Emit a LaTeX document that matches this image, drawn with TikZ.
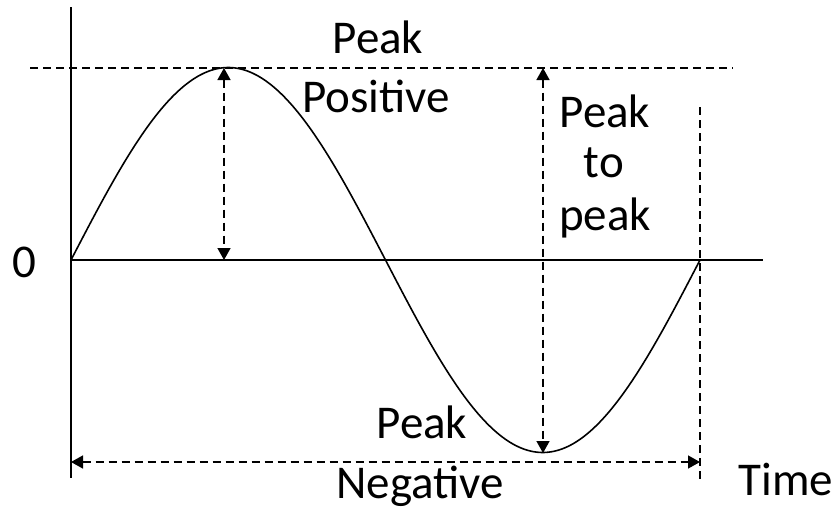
\documentclass[tikz,border=0pt]{standalone}
\usepackage{fontspec}
\setmainfont{Carlito}
\usetikzlibrary{arrows.meta}
\begin{document}
\begin{tikzpicture}[x=0.5pt,y=-0.5pt,
  solidline/.style={line width=0.9pt,black},
  dashline/.style={line width=0.75pt,black,dash pattern=on 4pt off 2.5pt},
  dimarrow/.style={dashline,{Triangle[length=6pt,width=6.5pt]}-{Triangle[length=6pt,width=6.5pt]}},
  lbl/.style={anchor=base,inner sep=0pt,font=\fontsize{23.5}{28}\selectfont}]
\useasboundingbox (0,0) rectangle (840,509);
% reference coordinates
\coordinate (axtop) at (71,7);
\coordinate (axbot) at (71,478);
\coordinate (origin) at (71,260);
\coordinate (zend) at (763,260);
\coordinate (topl) at (30,68);
\coordinate (topr) at (733,68);
\coordinate (pk) at (224,68);
\coordinate (pkb) at (224,260);
\coordinate (ppt) at (543,68);
\coordinate (ppb) at (543,453);
\coordinate (rt) at (700,107);
\coordinate (rb) at (700,483);
\coordinate (bl) at (71,462);
\coordinate (br) at (700,462);
% axes
\draw[solidline] (axtop) -- (axbot);
\draw[solidline] (origin) -- (zend);
% dashed guides
\draw[dashline] (topl) -- (topr);
\draw[dashline] (rt) -- (rb);
% sine wave
\draw[line width=0.8pt,black,smooth] plot[domain=0:360,samples=120] ({71+1.74722*\x},{260-192.5*sin(\x)});
% dimension arrows
\draw[dimarrow] (pk) -- (pkb);
\draw[dimarrow] (ppt) -- (ppb);
\draw[dimarrow] (bl) -- (br);
% labels
\node[lbl] (zero) at (24,277) {0};
\node[lbl] (pp1) at (378,53) {Peak};
\node[lbl] (pp2) at (376,112) {Positive};
\node[lbl] (ptp1) at (605,127) {Peak};
\node[lbl] (ptp2) at (604,177) {to};
\node[lbl] (ptp3) at (605,230) {peak};
\node[lbl] (pn1) at (422,438) {Peak};
\node[lbl] (pn2) at (420,498) {Negative};
\node[lbl] (time) at (786,495) {Time};
\end{tikzpicture}
\end{document}
